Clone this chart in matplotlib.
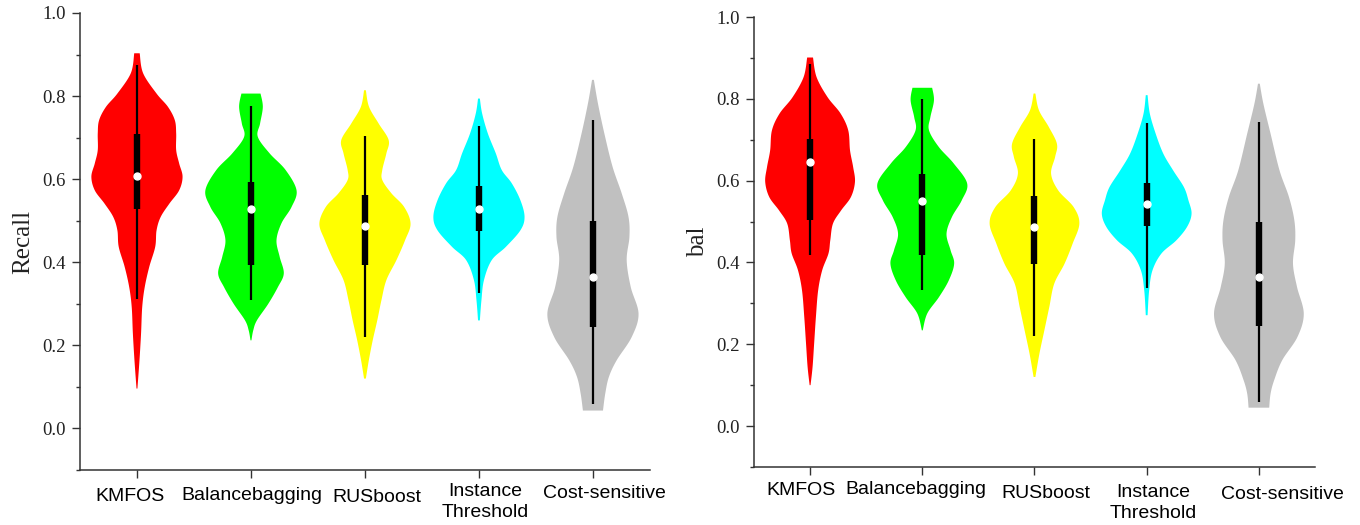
import numpy as np
import matplotlib
matplotlib.use("Agg")
import matplotlib.pyplot as plt
from matplotlib.ticker import MultipleLocator, FormatStrFormatter
from matplotlib.transforms import ScaledTranslation

methods = ["KMFOS", "Balancebagging", "RUSboost", "Instance\nThreshold", "Cost-sensitive"]
colors = ["#ff0000", "#00ff00", "#ffff00", "#00ffff", "#c0c0c0"]

# ---- Recall panel: violin density profiles (value levels, relative width) ----
recall_levels = [
    [0.903, 0.855, 0.806, 0.774, 0.742, 0.710, 0.670, 0.638, 0.606, 0.573, 0.541,
     0.509, 0.477, 0.437, 0.389, 0.340, 0.292, 0.229, 0.164, 0.096],
    [0.806, 0.774, 0.734, 0.702, 0.662, 0.622, 0.573, 0.533, 0.494, 0.453, 0.413,
     0.373, 0.340, 0.300, 0.260, 0.236, 0.212],
    [0.814, 0.774, 0.734, 0.694, 0.662, 0.622, 0.598, 0.566, 0.533, 0.493, 0.453,
     0.405, 0.357, 0.308, 0.260, 0.212, 0.164, 0.120],
    [0.794, 0.758, 0.710, 0.662, 0.622, 0.590, 0.549, 0.509, 0.477, 0.437, 0.405,
     0.357, 0.308, 0.260],
    [0.839, 0.782, 0.710, 0.630, 0.566, 0.509, 0.461, 0.405, 0.340, 0.276, 0.220,
     0.164, 0.124, 0.084, 0.043],
]
recall_density = [
    [0.06, 0.135, 0.43, 0.68, 0.83, 0.86, 0.86, 0.925, 1.0, 0.925, 0.71,
     0.52, 0.43, 0.40, 0.27, 0.17, 0.115, 0.09, 0.055, 0.01],
    [0.21, 0.26, 0.20, 0.15, 0.41, 0.76, 1.0, 0.89, 0.67, 0.56, 0.63,
     0.72, 0.59, 0.38, 0.13, 0.05, 0.01],
    [0.02, 0.09, 0.30, 0.52, 0.47, 0.38, 0.38, 0.58, 0.86, 1.0, 0.88,
     0.69, 0.47, 0.36, 0.27, 0.17, 0.085, 0.02],
    [0.02, 0.07, 0.195, 0.37, 0.50, 0.72, 0.91, 1.0, 0.91, 0.59, 0.28,
     0.11, 0.054, 0.02],
    [0.02, 0.11, 0.25, 0.43, 0.63, 0.78, 0.80, 0.74, 0.83, 1.0, 0.85,
     0.52, 0.35, 0.27, 0.22],
]
recall_whisker_low = [0.311, 0.310, 0.219, 0.326, 0.058]
recall_q1 = [0.529, 0.394, 0.394, 0.475, 0.244]
recall_median = [0.608, 0.527, 0.487, 0.529, 0.364]
recall_q3 = [0.708, 0.594, 0.563, 0.583, 0.499]
recall_whisker_high = [0.875, 0.777, 0.704, 0.728, 0.742]

# ---- bal panel ----
bal_levels = [
    [0.901, 0.853, 0.804, 0.764, 0.723, 0.674, 0.633, 0.597, 0.560, 0.527, 0.495,
     0.454, 0.422, 0.381, 0.332, 0.267, 0.201, 0.144, 0.100],
    [0.827, 0.796, 0.755, 0.723, 0.682, 0.642, 0.593, 0.552, 0.511, 0.470, 0.430,
     0.397, 0.356, 0.315, 0.275, 0.234],
    [0.813, 0.772, 0.731, 0.690, 0.658, 0.617, 0.576, 0.535, 0.495, 0.446, 0.397,
     0.348, 0.291, 0.234, 0.177, 0.120],
    [0.809, 0.764, 0.715, 0.666, 0.625, 0.584, 0.552, 0.519, 0.487, 0.454, 0.422,
     0.381, 0.332, 0.271],
    [0.837, 0.788, 0.715, 0.625, 0.560, 0.503, 0.454, 0.397, 0.340, 0.275, 0.218,
     0.161, 0.112, 0.079, 0.045],
]
bal_density = [
    [0.065, 0.145, 0.39, 0.68, 0.85, 0.89, 0.96, 1.0, 0.91, 0.69, 0.51,
     0.45, 0.41, 0.27, 0.18, 0.13, 0.09, 0.055, 0.01],
    [0.22, 0.26, 0.18, 0.15, 0.37, 0.70, 1.0, 0.88, 0.66, 0.54, 0.63,
     0.71, 0.59, 0.37, 0.11, 0.01],
    [0.02, 0.10, 0.32, 0.50, 0.46, 0.37, 0.53, 0.875, 1.0, 0.85, 0.67,
     0.44, 0.33, 0.22, 0.11, 0.02],
    [0.02, 0.07, 0.20, 0.37, 0.59, 0.83, 0.93, 1.0, 0.90, 0.66, 0.33,
     0.13, 0.055, 0.02],
    [0.02, 0.10, 0.26, 0.46, 0.67, 0.79, 0.81, 0.76, 0.85, 1.0, 0.86,
     0.52, 0.34, 0.26, 0.23],
]
bal_whisker_low = [0.419, 0.333, 0.219, 0.338, 0.059]
bal_q1 = [0.503, 0.417, 0.395, 0.488, 0.244]
bal_median = [0.646, 0.550, 0.487, 0.542, 0.364]
bal_q3 = [0.703, 0.617, 0.562, 0.594, 0.499]
bal_whisker_high = [0.884, 0.800, 0.703, 0.741, 0.743]


def smooth_profile(levels, dens, n=16):
    """Catmull-Rom smoothing of the outline points for rendering."""
    pts = np.column_stack([levels, dens])[::-1]  # ascending
    out = []
    m = len(pts)
    for i in range(m - 1):
        p0 = pts[max(i - 1, 0)]
        p1 = pts[i]
        p2 = pts[i + 1]
        p3 = pts[min(i + 2, m - 1)]
        t = np.linspace(0, 1, n, endpoint=False)[:, None]
        seg = 0.5 * ((2 * p1) + (-p0 + p2) * t + (2 * p0 - 5 * p1 + 4 * p2 - p3) * t ** 2
                     + (-p0 + 3 * p1 - 3 * p2 + p3) * t ** 3)
        out.append(seg)
    out.append(pts[-1:])
    out = np.vstack(out)
    out[:, 1] = np.clip(out[:, 1], 0, None)
    return out[:, 0], out[:, 1]


def draw_panel(fig, ax, levels, density, wlo, q1, med, q3, whi, ylabel,
               label_dx_px, label_dy_px, ylabel_x):
    pos = np.arange(1, len(methods) + 1)
    half = 0.4
    for i, p in enumerate(pos):
        y, d = smooth_profile(levels[i], density[i])
        xs = np.concatenate([p + half * d, (p - half * d)[::-1]])
        ys = np.concatenate([y, y[::-1]])
        ax.fill(xs, ys, color=colors[i], linewidth=0, zorder=1)
        ax.plot([p, p], [wlo[i], whi[i]], color="black", lw=1.6, solid_capstyle="butt", zorder=2)
        ax.plot([p, p], [q1[i], q3[i]], color="black", lw=4.6, solid_capstyle="butt", zorder=3)
        ax.plot([p], [med[i]], marker="o", ms=5, color="white", mec="white", zorder=4)

    ax.set_xlim(0.5, 5.5)
    ax.set_ylim(-0.1, 1.0)
    ax.set_xticks(pos)
    ax.set_xticklabels([])
    base = ax.get_xaxis_transform()
    for i, p in enumerate(pos):
        off = ScaledTranslation(label_dx_px[i] / 100.0, -label_dy_px[i] / 100.0,
                                fig.dpi_scale_trans)
        ax.text(p, 0, methods[i], transform=base + off, ha="center", va="top",
                fontsize=14, family="Liberation Sans", color="black",
                multialignment="center", linespacing=1.3)
    ax.yaxis.set_major_locator(MultipleLocator(0.2))
    ax.yaxis.set_minor_locator(MultipleLocator(0.1))
    ax.yaxis.set_major_formatter(FormatStrFormatter("%.1f"))
    for lab in ax.get_yticklabels():
        lab.set_family("Liberation Serif")
        lab.set_fontsize(13.5)
    ax.tick_params(axis="y", which="major", length=6, width=1.0, pad=4, colors="#333333",
                   labelcolor="#222222")
    ax.tick_params(axis="y", which="minor", length=3, width=1.0, colors="#333333")
    ax.tick_params(axis="x", which="major", length=6, width=1.0, colors="#333333")
    for s in ["top", "right"]:
        ax.spines[s].set_visible(False)
    for s in ["left", "bottom"]:
        ax.spines[s].set_color("#333333")
        ax.spines[s].set_linewidth(1.1)
    ax.set_ylabel(ylabel, fontsize=18, family="Liberation Serif", color="#222222")
    ax.yaxis.set_label_coords(ylabel_x, 0.5)


fig = plt.figure(figsize=(13.6, 5.25), dpi=100)
ax1 = fig.add_axes([0.0588, 0.1048, 0.4191, 0.8705])
ax2 = fig.add_axes([0.5544, 0.1105, 0.4125, 0.8571])

draw_panel(fig, ax1, recall_levels, recall_density, recall_whisker_low, recall_q1,
           recall_median, recall_q3, recall_whisker_high, "Recall",
           [-7, 1, 12, 6, 11], [18, 17, 19, 13, 15], -0.08)
draw_panel(fig, ax2, bal_levels, bal_density, bal_whisker_low, bal_q1,
           bal_median, bal_q3, bal_whisker_high, "bal",
           [-9, -6, 11, 7, 24], [15, 14, 18, 17, 19], -0.08)

fig.savefig("out.png", dpi=100)
